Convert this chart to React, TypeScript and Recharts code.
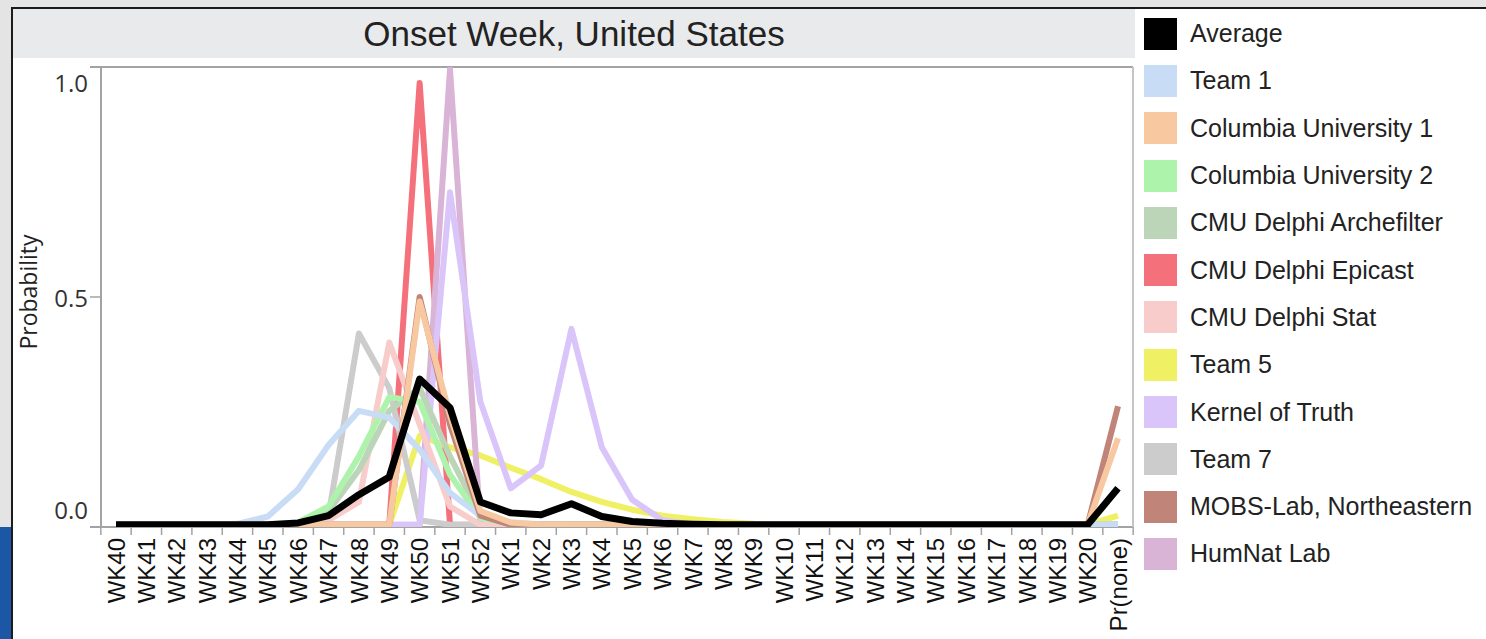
import React from "react";
import { LineChart, Line, XAxis, YAxis } from "recharts";

const WEEKS = [
  "WK40", "WK41", "WK42", "WK43", "WK44", "WK45", "WK46", "WK47", "WK48", "WK49",
  "WK50", "WK51", "WK52", "WK1", "WK2", "WK3", "WK4", "WK5", "WK6", "WK7",
  "WK8", "WK9", "WK10", "WK11", "WK12", "WK13", "WK14", "WK15", "WK16", "WK17",
  "WK18", "WK19", "WK20", "Pr(none)",
];

const Y_TICKS = [0, 0.5, 1];

// values per week, same order as WEEKS
const AVERAGE = [0, 0, 0, 0, 0, 0, 0.004, 0.02, 0.066, 0.105, 0.32, 0.257, 0.05, 0.026, 0.022, 0.046, 0.018, 0.007, 0.003, 0.001, 0, 0, 0, 0, 0, 0, 0, 0, 0, 0, 0, 0, 0, 0.08];
const TEAM_1 = [0, 0, 0, 0, 0.002, 0.018, 0.078, 0.175, 0.25, 0.235, 0.165, 0.07, 0.02, 0.005, 0.001, 0, 0, 0, 0, 0, 0, 0, 0, 0, 0, 0, 0, 0, 0, 0, 0, 0, 0, 0];
const COLUMBIA_1 = [0, 0, 0, 0, 0, 0, 0, 0, 0, 0, 0.49, 0.24, 0.03, 0.005, 0, 0, 0, 0, 0, 0, 0, 0, 0, 0, 0, 0, 0, 0, 0, 0, 0, 0, 0, 0.19];
const COLUMBIA_2 = [0, 0, 0, 0, 0, 0, 0.005, 0.04, 0.15, 0.28, 0.27, 0.11, 0.015, 0.002, 0, 0, 0, 0, 0, 0, 0, 0, 0, 0, 0, 0, 0, 0, 0, 0, 0, 0, 0, 0];
const ARCHEFILTER = [0, 0, 0, 0, 0, 0, 0, 0.03, 0.12, 0.25, 0.3, 0.15, 0.02, 0, 0, 0, 0, 0, 0, 0, 0, 0, 0, 0, 0, 0, 0, 0, 0, 0, 0, 0, 0, 0];
const EPICAST = [0, 0, 0, 0, 0, 0, 0, 0, 0, 0, 0.97, 0, 0, 0, 0, 0, 0, 0, 0, 0, 0, 0, 0, 0, 0, 0, 0, 0, 0, 0, 0, 0, 0, 0];
const DELPHI_STAT = [0, 0, 0, 0, 0, 0, 0, 0.01, 0.05, 0.4, 0.22, 0.04, 0, 0, 0, 0, 0, 0, 0, 0, 0, 0, 0, 0, 0, 0, 0, 0, 0, 0, 0, 0, 0, 0];
const TEAM_5 = [0, 0, 0, 0, 0, 0, 0, 0, 0, 0, 0.195, 0.17, 0.152, 0.125, 0.1, 0.072, 0.05, 0.033, 0.02, 0.012, 0.006, 0.002, 0, 0, 0, 0, 0, 0, 0, 0, 0, 0, 0, 0.02];
const KERNEL = [0, 0, 0, 0, 0, 0, 0, 0, 0, 0, 0, 0.73, 0.27, 0.08, 0.13, 0.43, 0.17, 0.055, 0.01, 0, 0, 0, 0, 0, 0, 0, 0, 0, 0, 0, 0, 0, 0, 0];
const TEAM_7 = [0, 0, 0, 0, 0, 0, 0, 0.02, 0.42, 0.3, 0.01, 0, 0, 0, 0, 0, 0, 0, 0, 0, 0, 0, 0, 0, 0, 0, 0, 0, 0, 0, 0, 0, 0, 0];
const MOBS = [0, 0, 0, 0, 0, 0, 0, 0, 0, 0, 0.5, 0.22, 0.02, 0, 0, 0, 0, 0, 0, 0, 0, 0, 0, 0, 0, 0, 0, 0, 0, 0, 0, 0, 0, 0.26];
const HUMNAT = [0, 0, 0, 0, 0, 0, 0, 0, 0, 0, 0, 1.0, 0, 0, 0, 0, 0, 0, 0, 0, 0, 0, 0, 0, 0, 0, 0, 0, 0, 0, 0, 0, 0, 0];

// legend order
const SERIES = [
  { key: "avg", name: "Average", color: "#000000", values: AVERAGE },
  { key: "team1", name: "Team 1", color: "#c8dcf6", values: TEAM_1 },
  { key: "col1", name: "Columbia University 1", color: "#f8c9a0", values: COLUMBIA_1 },
  { key: "col2", name: "Columbia University 2", color: "#aef3ab", values: COLUMBIA_2 },
  { key: "arche", name: "CMU Delphi Archefilter", color: "#bcd5b9", values: ARCHEFILTER },
  { key: "epicast", name: "CMU Delphi Epicast", color: "#f4707a", values: EPICAST },
  { key: "stat", name: "CMU Delphi Stat", color: "#f8cccb", values: DELPHI_STAT },
  { key: "team5", name: "Team 5", color: "#f0f064", values: TEAM_5 },
  { key: "kernel", name: "Kernel of Truth", color: "#dac5fa", values: KERNEL },
  { key: "team7", name: "Team 7", color: "#cccccc", values: TEAM_7 },
  { key: "mobs", name: "MOBS-Lab, Northeastern", color: "#c08578", values: MOBS },
  { key: "humnat", name: "HumNat Lab", color: "#dab4d6", values: HUMNAT },
];

// bottom to top
const DRAW_ORDER = ["epicast", "team5", "humnat", "team7", "kernel", "stat", "arche", "col2", "team1", "mobs", "col1", "avg"];

const data = WEEKS.map((wk, i) => {
  const row: Record<string, string | number> = { wk };
  SERIES.forEach((s) => {
    row[s.key] = s.values[i];
  });
  return row;
});

const PLOT_LEFT = 101;
const PLOT_RIGHT = 1133;
const PLOT_TOP = 67;
const PLOT_BOTTOM = 527;
const PAD = 15;
const STEP = (PLOT_RIGHT - PLOT_LEFT - 2 * PAD) / (WEEKS.length - 1);
const AXIS_GRAY = "#a3a3a3";
const FONT = "'Liberation Sans', Arial, sans-serif";

function WeekTick(props: any) {
  const { x, payload, index } = props;
  const last = index === WEEKS.length - 1;
  return (
    <g>
      <line x1={x - STEP / 2} x2={x - STEP / 2} y1={PLOT_BOTTOM} y2={PLOT_BOTTOM + 8} stroke={AXIS_GRAY} strokeWidth={1.5} />
      {last && <line x1={x + STEP / 2} x2={x + STEP / 2} y1={PLOT_BOTTOM} y2={PLOT_BOTTOM + 8} stroke={AXIS_GRAY} strokeWidth={1.5} />}
      <text
        x={x}
        y={PLOT_BOTTOM + 11}
        transform={`rotate(-90, ${x}, ${PLOT_BOTTOM + 11})`}
        textAnchor="end"
        dy="0.36em"
        fontFamily={FONT}
        fontSize={24}
        fill="#111"
      >
        {payload.value}
      </text>
    </g>
  );
}

function ProbTick(props: any) {
  const { y, payload } = props;
  const v = payload.value as number;
  const dy = v === 1 ? 13 : v === 0 ? -15 : 0;
  return (
    <g>
      <text x={88} y={y + dy} textAnchor="end" dominantBaseline="central" fontFamily="'Open Sans', sans-serif" fontSize={24} fill="#333">
        {v.toFixed(1)}
      </text>
      {v === 0.5 && <line x1={90} x2={PLOT_LEFT} y1={y} y2={y} stroke={AXIS_GRAY} strokeWidth={1.5} />}
    </g>
  );
}

export default function App() {
  return (
    <div style={{ position: "absolute", left: 0, top: 0, width: 1486, height: 639, background: "#ffffff", overflow: "hidden" }}>
      {/* outer frame */}
      <div style={{ position: "absolute", left: 0, top: 0, width: 1486, height: 7, background: "#e6e6e6" }} />
      <div style={{ position: "absolute", left: 0, top: 0, width: 11, height: 527, background: "#e4e4e4" }} />
      <div style={{ position: "absolute", left: 0, top: 527, width: 11, height: 112, background: "#1b57a4" }} />
      <div style={{ position: "absolute", left: 11, top: 7, width: 1475, height: 2, background: "#1c1c1c" }} />
      <div style={{ position: "absolute", left: 11, top: 7, width: 2, height: 632, background: "#1c1c1c" }} />

      {/* title band */}
      <div
        style={{
          position: "absolute",
          left: 13,
          top: 9,
          width: 1122,
          height: 49,
          background: "#e9eaec",
          textAlign: "center",
          fontFamily: FONT,
          fontSize: 35,
          lineHeight: "50px",
          color: "#222",
        }}
      >
        Onset Week, United States
      </div>

      {/* plot frame */}
      <div style={{ position: "absolute", left: 90, top: PLOT_TOP - 1, width: PLOT_RIGHT - 90, height: 2, background: AXIS_GRAY }} />
      <div style={{ position: "absolute", left: 90, top: PLOT_BOTTOM - 1, width: PLOT_RIGHT - 90, height: 2, background: AXIS_GRAY }} />
      <div style={{ position: "absolute", left: PLOT_LEFT - 1, top: PLOT_TOP, width: 2, height: PLOT_BOTTOM - PLOT_TOP, background: AXIS_GRAY }} />
      <div style={{ position: "absolute", left: PLOT_RIGHT - 1, top: PLOT_TOP, width: 2, height: PLOT_BOTTOM - PLOT_TOP, background: "#c4c4c4" }} />

      <div
        style={{
          position: "absolute",
          left: 28,
          top: 292,
          transform: "translate(-50%, -50%) rotate(-90deg)",
          fontFamily: "'Open Sans', sans-serif",
          fontSize: 23,
          color: "#222",
          whiteSpace: "nowrap",
        }}
      >
        Probability
      </div>

      <div style={{ position: "absolute", left: 0, top: 0 }}>
        <LineChart width={1486} height={639} data={data} margin={{ top: PLOT_TOP, right: 1486 - PLOT_RIGHT, bottom: 0, left: 0 }}>
          <XAxis
            dataKey="wk"
            interval={0}
            padding={{ left: PAD, right: PAD }}
            height={639 - PLOT_BOTTOM}
            axisLine={false}
            tickLine={false}
            tick={<WeekTick />}
          />
          <YAxis
            width={PLOT_LEFT}
            domain={[-0.005, 1.005]}
            ticks={Y_TICKS}
            allowDataOverflow
            axisLine={false}
            tickLine={false}
            tick={<ProbTick />}
          />
          {DRAW_ORDER.map((k) => {
            const s = SERIES.find((x) => x.key === k)!;
            return (
              <Line
                key={s.key}
                type="linear"
                dataKey={s.key}
                name={s.name}
                stroke={s.color}
                strokeWidth={s.key === "avg" ? 7 : 6}
                strokeLinejoin="round"
                dot={false}
                activeDot={false}
                isAnimationActive={false}
              />
            );
          })}
        </LineChart>
      </div>

      {/* legend */}
      <div style={{ position: "absolute", left: 1144, top: 10 }}>
        {SERIES.map((s) => (
          <div key={s.key} style={{ display: "flex", alignItems: "center", height: 47.3 }}>
            <span style={{ display: "inline-block", width: 33, height: 32, background: s.color, flexShrink: 0 }} />
            <span style={{ marginLeft: 13, fontFamily: FONT, fontSize: 25, color: "#222", whiteSpace: "nowrap" }}>{s.name}</span>
          </div>
        ))}
      </div>
    </div>
  );
}
